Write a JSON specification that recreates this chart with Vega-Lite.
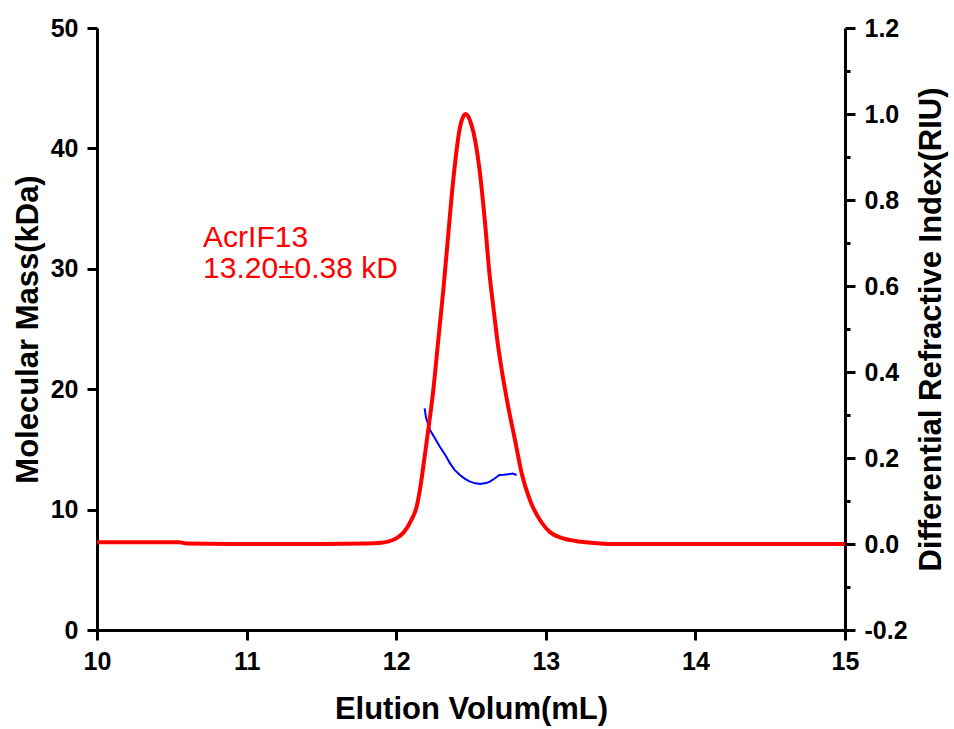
{
  "$schema": "https://vega.github.io/schema/vega-lite/v6.json",
  "width": 748,
  "height": 602,
  "autosize": {"type": "none"},
  "padding": {"left": 97, "top": 28, "right": 109, "bottom": 99},
  "background": "white",
  "config": {
    "view": {"stroke": null},
    "axis": {
      "grid": false,
      "domainColor": "black",
      "domainWidth": 3,
      "tickColor": "black",
      "tickWidth": 3,
      "tickSize": 10,
      "labelFont": "Liberation Sans",
      "labelFontWeight": "bold",
      "labelFontSize": 25,
      "labelColor": "black",
      "labelPadding": 9,
      "labelFlush": false,
      "labelOverlap": false,
      "labelBound": false,
      "titleFont": "Liberation Sans",
      "titleFontWeight": "bold",
      "titleFontSize": 31,
      "titleColor": "black"
    }
  },
  "datasets": {
    "ri": [
      {"vol": 10.0, "ri": 0.004}, {"vol": 10.55, "ri": 0.004}, {"vol": 10.6, "ri": 0.001},
      {"vol": 11.0, "ri": 0.0}, {"vol": 11.5, "ri": 0.0}, {"vol": 11.8, "ri": 0.001},
      {"vol": 11.9, "ri": 0.003}, {"vol": 11.95, "ri": 0.006}, {"vol": 12.0, "ri": 0.013},
      {"vol": 12.05, "ri": 0.027}, {"vol": 12.1, "ri": 0.055}, {"vol": 12.137, "ri": 0.087},
      {"vol": 12.165, "ri": 0.14}, {"vol": 12.19, "ri": 0.203}, {"vol": 12.22, "ri": 0.28},
      {"vol": 12.248, "ri": 0.358}, {"vol": 12.28, "ri": 0.47}, {"vol": 12.315, "ri": 0.591},
      {"vol": 12.343, "ri": 0.7}, {"vol": 12.371, "ri": 0.81}, {"vol": 12.395, "ri": 0.89},
      {"vol": 12.415, "ri": 0.945}, {"vol": 12.43, "ri": 0.975}, {"vol": 12.447, "ri": 0.993},
      {"vol": 12.465, "ri": 1.0}, {"vol": 12.482, "ri": 0.994}, {"vol": 12.5, "ri": 0.978},
      {"vol": 12.527, "ri": 0.94}, {"vol": 12.56, "ri": 0.862}, {"vol": 12.594, "ri": 0.746},
      {"vol": 12.623, "ri": 0.63}, {"vol": 12.649, "ri": 0.552}, {"vol": 12.676, "ri": 0.474},
      {"vol": 12.709, "ri": 0.397}, {"vol": 12.749, "ri": 0.319}, {"vol": 12.794, "ri": 0.242},
      {"vol": 12.839, "ri": 0.164}, {"vol": 12.894, "ri": 0.102}, {"vol": 12.972, "ri": 0.05},
      {"vol": 13.03, "ri": 0.027}, {"vol": 13.1, "ri": 0.015}, {"vol": 13.2, "ri": 0.007},
      {"vol": 13.3, "ri": 0.003}, {"vol": 13.45, "ri": 0.0}, {"vol": 14.0, "ri": 0.0},
      {"vol": 15.0, "ri": 0.0}
    ],
    "mass": [
      {"vol": 12.19, "kda": 18.4}, {"vol": 12.2, "kda": 17.6}, {"vol": 12.226, "kda": 16.6},
      {"vol": 12.26, "kda": 15.9}, {"vol": 12.293, "kda": 15.2}, {"vol": 12.33, "kda": 14.5},
      {"vol": 12.36, "kda": 13.84}, {"vol": 12.39, "kda": 13.3}, {"vol": 12.426, "kda": 12.87},
      {"vol": 12.46, "kda": 12.55}, {"vol": 12.493, "kda": 12.32}, {"vol": 12.53, "kda": 12.18},
      {"vol": 12.56, "kda": 12.13}, {"vol": 12.6, "kda": 12.2}, {"vol": 12.627, "kda": 12.32},
      {"vol": 12.66, "kda": 12.6}, {"vol": 12.69, "kda": 12.87}, {"vol": 12.72, "kda": 12.9},
      {"vol": 12.76, "kda": 12.96}, {"vol": 12.78, "kda": 13.0}, {"vol": 12.805, "kda": 12.87}
    ],
    "notes": [
      {"vol": 10.709, "kda": 31.8, "label": "AcrIF13"},
      {"vol": 10.709, "kda": 29.2, "label": "13.20±0.38 kD"}
    ]
  },
  "encoding": {
    "x": {
      "field": "vol",
      "type": "quantitative",
      "scale": {"domain": [10, 15], "nice": false, "zero": false},
      "axis": {"title": "Elution Volum(mL)", "values": [10, 11, 12, 13, 14, 15], "titlePadding": 20}
    }
  },
  "layer": [
    {
      "data": {"name": "mass"},
      "mark": {"type": "line", "color": "#0000ff", "strokeWidth": 2},
      "encoding": {
        "y": {
          "field": "kda",
          "type": "quantitative",
          "scale": {"domain": [0, 50], "nice": false},
          "axis": {"orient": "left", "title": "Molecular Mass(kDa)", "values": [0, 10, 20, 30, 40, 50], "titlePadding": 6}
        }
      }
    },
    {
      "data": {"name": "ri"},
      "mark": {"type": "line", "color": "#ff0000", "strokeWidth": 4, "interpolate": "monotone"},
      "encoding": {
        "y": {
          "field": "ri",
          "type": "quantitative",
          "scale": {"domain": [-0.2, 1.2], "nice": false, "zero": false},
          "axis": {
            "orient": "right",
            "title": "Differential Refractive Index(RIU)",
            "titleAngle": 270,
            "titlePadding": 40,
            "values": [-0.2, -0.1, 0, 0.1, 0.2, 0.3, 0.4, 0.5, 0.6, 0.7, 0.8, 0.9, 1.0, 1.1, 1.2],
            "labelExpr": "round(datum.value*10)%2 != 0 ? '' : (datum.value < -0.01 ? '-' : '') + format(abs(datum.value), '.1f')",
            "tickSize": {"condition": {"test": "round(datum.value*10)%2 != 0", "value": 5}, "value": 10}
          }
        }
      }
    },
    {
      "data": {"name": "notes"},
      "mark": {"type": "text", "color": "#ff0000", "font": "Liberation Sans", "fontSize": 30, "align": "left", "baseline": "alphabetic"},
      "encoding": {
        "y": {"field": "kda", "type": "quantitative", "scale": {"domain": [0, 50], "nice": false}, "axis": null},
        "text": {"field": "label"}
      }
    }
  ],
  "resolve": {"scale": {"y": "independent"}}
}
